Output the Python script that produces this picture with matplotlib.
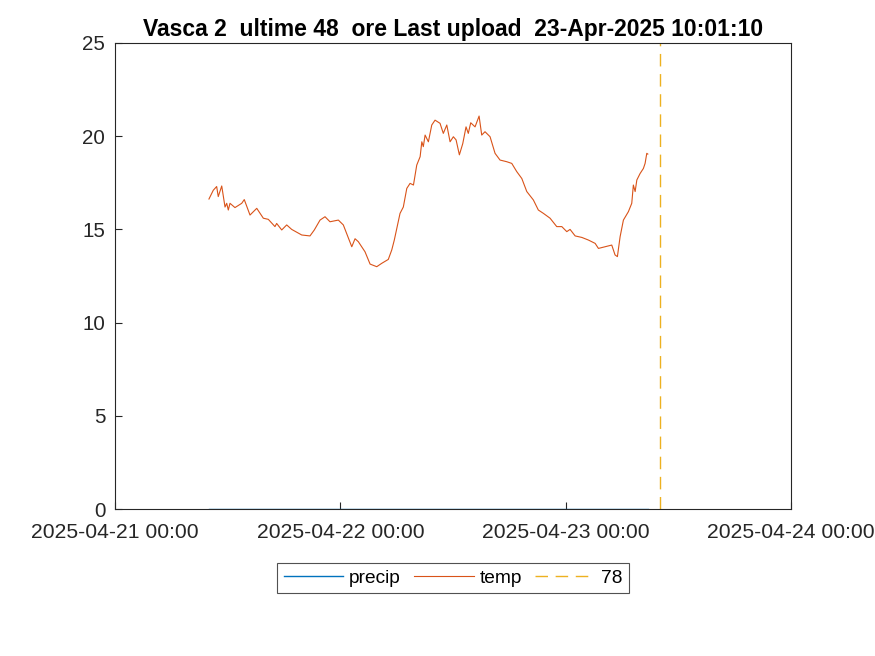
import matplotlib
matplotlib.use("Agg")
import matplotlib.pyplot as plt
import matplotlib.dates as mdates
import numpy as np
from datetime import datetime, timedelta

plt.rcParams['font.family'] = ['Liberation Sans', 'DejaVu Sans']

start = datetime(2025, 4, 21, 0, 0)
last_upload = datetime(2025, 4, 23, 10, 1, 10)

# hours since 2025-04-21 00:00 and temperature values
temp_hours = [10.01, 10.47, 10.83, 11.0, 11.37, 11.72, 11.9, 12.07, 12.25, 12.78,
              13.5, 13.77, 14.38, 15.1, 15.8, 16.33, 17.04, 17.22, 17.76, 18.29,
              18.82, 19.89, 20.77, 21.23, 21.84, 22.37, 22.9, 23.79, 24.32, 25.22,
              25.57, 25.92, 26.63, 27.17, 27.88, 28.41, 29.11, 29.48, 29.75, 30.36,
              30.71, 31.08, 31.43, 31.79, 32.14, 32.5, 32.68, 32.84, 33.03, 33.38,
              33.74, 34.09, 34.62, 34.97, 35.34, 35.69, 36.04, 36.33, 36.68, 37.04,
              37.39, 37.63, 37.89, 38.35, 38.78, 39.06, 39.41, 39.95, 40.48, 41.01,
              41.73, 42.26, 42.79, 43.33, 43.86, 44.56, 45.09, 45.63, 46.34, 47.05,
              47.59, 48.12, 48.47, 49.01, 49.72, 50.42, 51.14, 51.49, 52.2, 52.91,
              53.26, 53.51, 53.8, 54.15, 54.68, 55.04, 55.21, 55.4, 55.58, 55.93,
              56.28, 56.46, 56.64, 56.75]
temp_vals = [16.63, 17.1, 17.3, 16.76, 17.33, 16.2, 16.4, 16.04, 16.4, 16.17,
             16.4, 16.6, 15.77, 16.13, 15.6, 15.54, 15.15, 15.32, 14.97, 15.24,
             15.0, 14.7, 14.65, 14.97, 15.5, 15.68, 15.41, 15.5, 15.24, 14.07,
             14.5, 14.34, 13.8, 13.14, 13.0, 13.18, 13.39, 13.9, 14.43, 15.86,
             16.2, 17.2, 17.47, 17.38, 18.45, 18.9, 19.7, 19.44, 20.06, 19.7,
             20.6, 20.86, 20.69, 20.15, 20.6, 19.7, 19.97, 19.8, 19.0, 19.6,
             20.5, 20.15, 20.72, 20.5, 21.08, 20.06, 20.24, 19.97, 19.08, 18.72,
             18.63, 18.54, 18.1, 17.73, 17.03, 16.58, 16.04, 15.86, 15.6, 15.15,
             15.15, 14.88, 15.0, 14.65, 14.57, 14.43, 14.25, 13.98, 14.07, 14.16,
             13.63, 13.54, 14.61, 15.5, 15.95, 16.4, 17.38, 17.03, 17.65, 18.0,
             18.27, 18.54, 19.08, 19.04]

precip_hours = [10.01, 56.75]
precip_vals = [0.0, 0.0]

xtick_labels = ['2025-04-21 00:00', '2025-04-22 00:00', '2025-04-23 00:00', '2025-04-24 00:00']
yticks = [0, 5, 10, 15, 20, 25]
title = 'Vasca 2  ultime 48  ore Last upload  23-Apr-2025 10:01:10'

temp_t = [start + timedelta(hours=h) for h in temp_hours]
precip_t = [start + timedelta(hours=h) for h in precip_hours]

fig = plt.figure(figsize=(8.75, 6.56), dpi=100)
ax = fig.add_axes([0.1314, 0.224, 0.7726, 0.7105])

ax.plot(precip_t, precip_vals, color='#0072BD', lw=1.0, label='precip')
ax.plot(temp_t, temp_vals, color='#D95319', lw=0.8, label='temp')
ax.axvline(last_upload, color='#EDB120', lw=1.0, ls=(0, (9, 5.5)), label='78')

xt = [datetime(2025, 4, 21) + timedelta(days=i) for i in range(4)]
ax.set_xlim(xt[0], xt[-1])
ax.set_xticks(xt)
ax.set_xticklabels(xtick_labels)
ax.set_ylim(0, 25)
ax.set_yticks(yticks)
ax.tick_params(direction='in', length=5, width=0.8, labelsize=14.8, colors='#262626')
ax.tick_params(axis='x', labelsize=15.2, pad=10)
ax.tick_params(axis='y', pad=7)
for s in ax.spines.values():
    s.set_color('#262626')
    s.set_linewidth(0.8)

ax.set_title(title, fontsize=16.5, fontweight='bold', pad=5)

leg = ax.legend(loc='upper center', bbox_to_anchor=(0.5, -0.115), ncol=3,
                fontsize=13.8, frameon=True, fancybox=False, edgecolor='#262626',
                handlelength=3.1, handletextpad=0.3, columnspacing=0.7,
                borderpad=0.35, borderaxespad=0)
leg.get_frame().set_linewidth(0.8)

fig.savefig('out.png', dpi=100)
